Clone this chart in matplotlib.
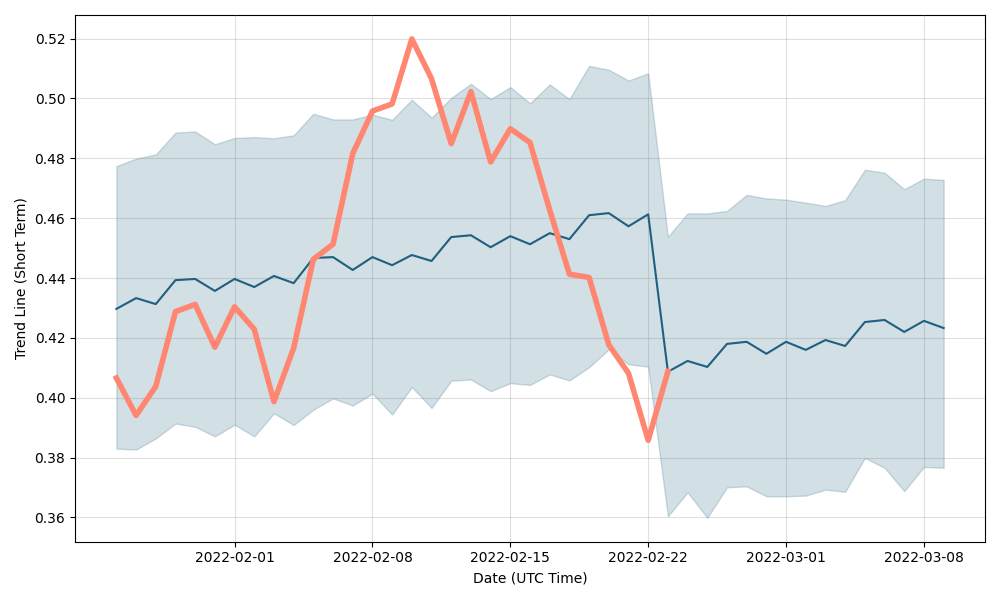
import numpy as np
import pandas as pd
import matplotlib
matplotlib.use('Agg')
import matplotlib.pyplot as plt
import matplotlib.dates as mdates

#=====Data=====
dates = pd.date_range('2022-01-26', '2022-03-09', freq='D')
tick_dates = pd.date_range('2022-02-01', '2022-03-08', freq='7D')

trend_mean = [0.4297, 0.4333, 0.4313, 0.4393, 0.4397, 0.4357, 0.4397, 0.4370, 0.4407, 0.4383,
              0.4467, 0.4470, 0.4427, 0.4470, 0.4443, 0.4477, 0.4457, 0.4537, 0.4543, 0.4503,
              0.4540, 0.4513, 0.4550, 0.4530, 0.4610, 0.4617, 0.4573, 0.4613, 0.4087, 0.4123,
              0.4103, 0.4180, 0.4187, 0.4147, 0.4187, 0.4160, 0.4193, 0.4173, 0.4253, 0.4260,
              0.4220, 0.4257, 0.4233]

trend_upper = [0.4774, 0.4799, 0.4813, 0.4886, 0.4890, 0.4847, 0.4868, 0.4871, 0.4867, 0.4877,
               0.4949, 0.4930, 0.4930, 0.4946, 0.4929, 0.4996, 0.4936, 0.5002, 0.5049, 0.4998,
               0.5038, 0.4984, 0.5047, 0.4998, 0.5109, 0.5096, 0.5060, 0.5084, 0.4538, 0.4616,
               0.4616, 0.4624, 0.4678, 0.4666, 0.4662, 0.4652, 0.4641, 0.4660, 0.4762, 0.4752,
               0.4697, 0.4732, 0.4728]

trend_lower = [0.3830, 0.3827, 0.3864, 0.3914, 0.3903, 0.3871, 0.3910, 0.3871, 0.3948, 0.3909,
               0.3960, 0.3998, 0.3974, 0.4014, 0.3944, 0.4036, 0.3966, 0.4057, 0.4061, 0.4022,
               0.4049, 0.4043, 0.4078, 0.4058, 0.4102, 0.4162, 0.4112, 0.4104, 0.3604, 0.3684,
               0.3599, 0.3701, 0.3704, 0.3671, 0.3671, 0.3673, 0.3693, 0.3686, 0.3799, 0.3766,
               0.3688, 0.3769, 0.3766]

actual = [0.4066, 0.3941, 0.4038, 0.4288, 0.4312, 0.4169, 0.4304, 0.4229, 0.3987, 0.4166,
          0.4463, 0.4513, 0.4816, 0.4958, 0.4982, 0.5199, 0.5066, 0.4849, 0.5023, 0.4788,
          0.4899, 0.4853, 0.4627, 0.4413, 0.4402, 0.4177, 0.4082, 0.3858, 0.4088]

#=====Plot=====
fig, ax = plt.subplots(figsize=(10, 6), dpi=100)

ax.fill_between(dates, trend_lower, trend_upper, color='#20607f', alpha=0.2, zorder=1)
ax.plot(dates, trend_mean, color='#1f5f7f', linewidth=1.5, zorder=3)
ax.plot(dates[:len(actual)], actual, color='#ff8670', linewidth=4, zorder=4)

#=====Grid over the band, under the lines=====
ax.set_axisbelow(False)
ax.grid(True, color='#808080', alpha=0.25, linewidth=0.8)

ax.set_xticks(tick_dates)
ax.xaxis.set_major_formatter(mdates.DateFormatter('%Y-%m-%d'))
ax.yaxis.set_major_formatter(matplotlib.ticker.FormatStrFormatter('%.2f'))

ax.set_xlabel('Date (UTC Time)')
ax.set_ylabel('Trend Line (Short Term)')

fig.tight_layout()
fig.savefig('out.png')
